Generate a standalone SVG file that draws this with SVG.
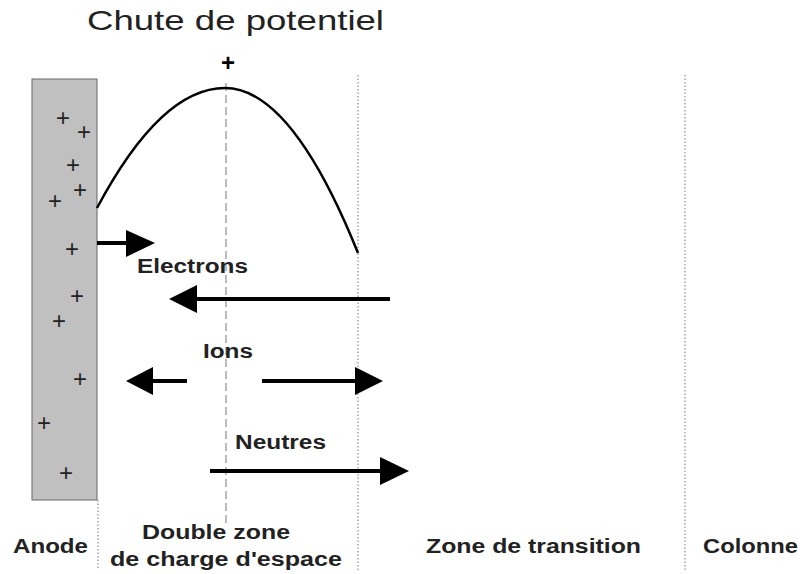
<svg xmlns="http://www.w3.org/2000/svg" width="804" height="574" viewBox="0 0 804 574">
<style>
.lbl{font-family:"Liberation Sans",Arial,sans-serif;font-weight:bold;font-size:19.5px;fill:#222}
.pl{font-family:"Liberation Sans",Arial,sans-serif;font-size:24px;fill:#222;text-anchor:middle}
.dot{stroke:#777;stroke-width:1;stroke-dasharray:1.5,2;fill:none}
.arr{stroke:#000;stroke-width:4;fill:none}
.head{fill:#000}
</style>
<rect width="804" height="574" fill="#fff"/>
<text x="87" y="30" font-family="Liberation Sans,Arial,sans-serif" font-size="28" fill="#222" textLength="297" lengthAdjust="spacingAndGlyphs">Chute de potentiel</text>
<g id="anode">
<rect x="32" y="79" width="65" height="421" fill="#c0c0c0" stroke="#666" stroke-width="1"/>
<text class="pl" x="63" y="126">+</text>
<text class="pl" x="84" y="140">+</text>
<text class="pl" x="73" y="173">+</text>
<text class="pl" x="80" y="198">+</text>
<text class="pl" x="55" y="209">+</text>
<text class="pl" x="72" y="257">+</text>
<text class="pl" x="77" y="304">+</text>
<text class="pl" x="59" y="329">+</text>
<text class="pl" x="80" y="387">+</text>
<text class="pl" x="44" y="431">+</text>
<text class="pl" x="66" y="481">+</text>
</g>
<g id="guides">
<line class="dot" x1="98" y1="500" x2="98" y2="570"/>
<line class="dot" x1="358" y1="75" x2="358" y2="570"/>
<line class="dot" x1="685" y1="75" x2="685" y2="570"/>
<line x1="226" y1="83" x2="226" y2="524" stroke="#777" stroke-width="1" stroke-dasharray="8,4"/>
</g>
<g id="curve">
<path d="M97,208 Q161,88 225,88 Q291.5,88 358,253" fill="none" stroke="#000" stroke-width="2.5"/>
<text x="228" y="71" font-family="Liberation Sans,Arial,sans-serif" font-weight="bold" font-size="24" fill="#000" text-anchor="middle">+</text>
</g>
<g id="connectors">
<line class="arr" x1="97" y1="243" x2="128" y2="243"/>
<polygon class="head" points="126,230 155,243 126,257"/>
<line class="arr" x1="390" y1="299" x2="195" y2="299"/>
<polygon class="head" points="197,285 169,299 197,313"/>
<line class="arr" x1="187" y1="381" x2="150" y2="381"/>
<polygon class="head" points="153,367 126,381 153,395"/>
<line class="arr" x1="262" y1="381" x2="358" y2="381"/>
<polygon class="head" points="355,367 383,381 355,395"/>
<line class="arr" x1="210" y1="471" x2="382" y2="471"/>
<polygon class="head" points="380,457 409,471 380,485"/>
</g>
<g id="labels">
<text class="lbl" x="137" y="273" textLength="111" lengthAdjust="spacingAndGlyphs">Electrons</text>
<text class="lbl" x="203" y="358" textLength="50" lengthAdjust="spacingAndGlyphs">Ions</text>
<text class="lbl" x="235" y="449" textLength="91" lengthAdjust="spacingAndGlyphs">Neutres</text>
<text class="lbl" x="13" y="553" textLength="75" lengthAdjust="spacingAndGlyphs">Anode</text>
<text class="lbl" x="142" y="539" textLength="148" lengthAdjust="spacingAndGlyphs">Double zone</text>
<text class="lbl" x="110" y="566" textLength="232" lengthAdjust="spacingAndGlyphs">de charge d'espace</text>
<text class="lbl" x="426" y="553" textLength="215" lengthAdjust="spacingAndGlyphs">Zone de transition</text>
<text class="lbl" x="703" y="553" textLength="95" lengthAdjust="spacingAndGlyphs">Colonne</text>
</g>
</svg>
